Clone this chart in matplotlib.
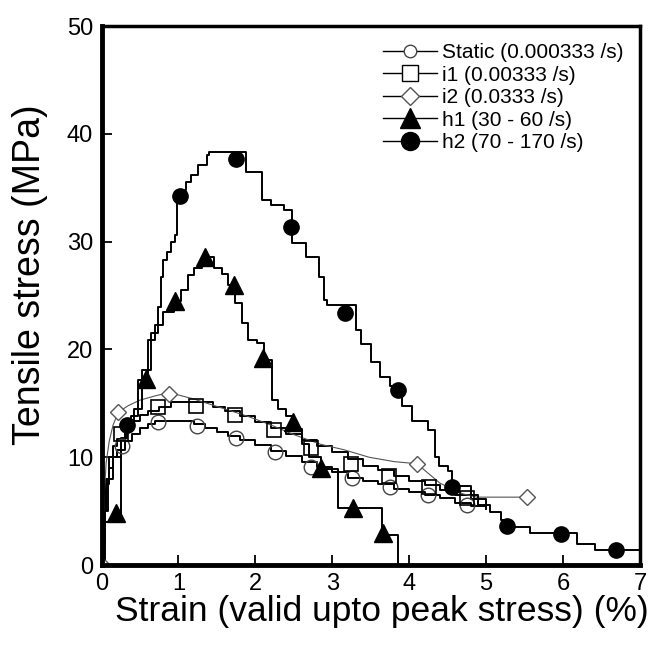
import matplotlib
matplotlib.use("Agg")
import matplotlib.pyplot as plt

plt.rcParams['font.family'] = ['Liberation Sans', 'DejaVu Sans']

# static test (0.000333 /s)
static_x = [0, 0.03, 0.06, 0.1, 0.15, 0.2, 0.3, 0.4, 0.5, 0.6, 0.7, 1.2, 1.35, 1.5, 1.65, 1.8,
            2.0, 2.2, 2.4, 2.6, 2.8, 3.0, 3.2, 3.4, 3.6, 3.8, 4.0, 4.2, 4.4, 4.6, 4.8, 5.0]
static_y = [0, 5, 7.5, 9, 10, 10.7, 11.5, 12.2, 12.7, 13.1, 13.4, 13.1, 12.7, 12.3, 12.0, 11.6,
            11.1, 10.6, 10.1, 9.6, 9.1, 8.6, 8.1, 7.8, 7.5, 7.1, 6.8, 6.5, 6.2, 5.8, 5.5, 5.2]
static_mx = [0.27, 0.74, 1.24, 1.75, 2.25, 2.72, 3.25, 3.75, 4.25, 4.75]
static_my = [11.0, 13.3, 12.9, 11.8, 10.5, 9.1, 8.1, 7.2, 6.5, 5.6]

# i1 (0.00333 /s)
i1_x = [0, 0.03, 0.06, 0.1, 0.15, 0.2, 0.3, 0.4, 0.5, 0.6, 0.75, 0.9, 1.3, 1.45, 1.6, 1.8,
        2.0, 2.2, 2.4, 2.6, 2.8, 3.0, 3.2, 3.4, 3.6, 3.8, 4.0, 4.2, 4.4, 4.6, 4.8, 5.0]
i1_y = [0, 5, 8, 10, 11, 11.7, 12.6, 13.4, 13.9, 14.3, 14.7, 15.1, 15.1, 14.7, 14.3, 13.8,
        13.3, 12.7, 12.2, 11.6, 11.0, 10.5, 9.8, 9.2, 8.8, 8.3, 7.8, 7.4, 7.0, 6.5, 6.1, 5.7]
i1_mx = [0.25, 0.74, 1.23, 1.74, 2.24, 2.72, 3.24, 3.74, 4.26, 4.75]
i1_my = [12.2, 14.7, 14.8, 13.9, 12.5, 10.9, 9.4, 8.3, 7.2, 6.2]

# i2 (0.0333 /s)
i2_x = [0, 0.03, 0.06, 0.1, 0.15, 0.22, 0.35, 0.5, 0.7, 0.88, 1.2, 1.55, 1.9, 2.2, 2.5,
        2.85, 3.15, 3.48, 3.8, 4.1, 4.4, 4.7, 4.88, 5.53]
i2_y = [0, 6, 9.5, 11.5, 13, 14.2, 14.8, 15.3, 15.7, 16.0, 15.4, 14.6, 13.8, 13.0, 12.1,
        11.2, 10.7, 10.0, 9.6, 9.4, 7.6, 6.6, 6.3, 6.3]
i2_mx = [0.0, 0.22, 0.88, 4.1, 5.53]
i2_my = [0.0, 14.2, 15.9, 9.4, 6.3]

# h1 (30 - 60 /s)
h1_x = [0, 0.05, 0.25, 0.3, 0.38, 0.48, 0.6, 0.7, 0.8, 0.94, 1.03, 1.13, 1.2, 1.3, 1.46,
        1.56, 1.65, 1.74, 1.82, 1.91, 2.02, 2.11, 2.21, 2.3, 2.4, 2.5, 2.6, 2.7, 2.85, 3.08,
        3.64, 3.86]
h1_y = [2.0, 4.0, 11.6, 12.5, 13.8, 17.2, 20.9, 22.3, 23.5, 24.5, 25.5, 26.9, 27.6, 28.6, 27.6,
        27.0, 26.0, 24.3, 22.5, 20.9, 20.6, 19.0, 15.3, 14.5, 13.8, 12.6, 11.2, 10.0, 8.9, 5.3,
        2.8, 0]
h1_mx = [0.19, 0.58, 0.95, 1.34, 1.72, 2.1, 2.49, 2.85, 3.27, 3.66]
h1_my = [4.8, 17.3, 24.5, 28.6, 26.0, 19.2, 13.3, 9.0, 5.3, 3.0]

# h2 (70 - 170 /s)
h2_x = [0, 0.04, 0.08, 0.15, 0.25, 0.33, 0.42, 0.52, 0.64, 0.74, 0.77, 0.8, 0.85, 0.9, 0.96,
        0.98, 1.04, 1.1, 1.16, 1.26, 1.37, 1.4, 1.88, 2.09, 2.2, 2.37, 2.47, 2.66, 2.83, 2.89,
        2.93, 3.31, 3.37, 3.5, 3.62, 3.75, 3.9, 4.03, 4.24, 4.34, 4.39, 4.5, 4.55, 4.8, 4.9,
        5.05, 5.2, 5.3, 5.57, 6.18, 6.42, 7.0]
h2_y = [0, 5, 8, 10, 11.8, 13.0, 14.5, 18.1, 21.5, 23.9, 26.7, 28.3, 29.0, 30.0, 30.6,
        33.6, 34.8, 35.5, 36.2, 37.1, 38.0, 38.3, 36.5, 33.9, 33.4, 32.9, 29.9, 28.6, 26.7, 24.6,
        24.1, 21.8, 20.5, 18.8, 17.4, 16.6, 14.8, 13.4, 12.5, 10.0, 9.2, 8.7, 7.3, 6.5, 5.6,
        4.9, 4.2, 3.5, 3.0, 2.0, 1.4, 1.4]
h2_mx = [0.33, 1.02, 1.75, 2.46, 3.16, 3.85, 4.56, 5.27, 5.98, 6.69]
h2_my = [13.0, 34.2, 37.7, 31.4, 23.4, 16.2, 7.2, 3.6, 2.9, 1.4]

labels = ['Static (0.000333 /s)', 'i1 (0.00333 /s)', 'i2 (0.0333 /s)',
          'h1 (30 - 60 /s)', 'h2 (70 - 170 /s)']

fig = plt.figure(figsize=(6.51, 6.51), dpi=100)
ax = fig.add_axes([0.156, 0.132, 0.827, 0.828])

ax.plot(static_x, static_y, color='black', lw=1.4, drawstyle='steps-post')
ax.plot(i1_x, i1_y, color='black', lw=1.4, drawstyle='steps-post')
ax.plot(i2_x, i2_y, color='#555555', lw=0.8)
ax.plot(h1_x, h1_y, color='black', lw=1.4, drawstyle='steps-post')
ax.plot(h2_x, h2_y, color='black', lw=1.4, drawstyle='steps-post')

ax.plot(static_mx, static_my, 'o', ls='none', ms=10.5, mfc='none', mec='#444444', mew=1.0)
ax.plot(i1_mx, i1_my, 's', ls='none', ms=10.5, mfc='none', mec='black', mew=1.2)
ax.plot(i2_mx, i2_my, 'D', ls='none', ms=8.5, mfc='white', mec='#555555', mew=1.0)
ax.plot(h1_mx, h1_my, '^', ls='none', ms=13, color='black')
ax.plot(h2_mx, h2_my, 'o', ls='none', ms=11, color='black')

# legend handles
hs = []
hs.append(ax.plot([], [], '-o', color='black', lw=1.0, ms=9, mfc='white', mec='#444444')[0])
hs.append(ax.plot([], [], '-s', color='black', lw=1.0, ms=12, mfc='white', mec='black')[0])
hs.append(ax.plot([], [], '-D', color='black', lw=1.0, ms=9.5, mfc='white', mec='#555555')[0])
hs.append(ax.plot([], [], '-^', color='black', lw=1.0, ms=14)[0])
hs.append(ax.plot([], [], '-o', color='black', lw=1.0, ms=13)[0])
fig.legend(hs, labels, loc='upper left', bbox_to_anchor=(383 / 651, 1 - 43 / 651),
           frameon=False, fontsize=15, handlelength=2.6, handletextpad=0.25,
           labelspacing=0.17, borderpad=0, borderaxespad=0)

ax.set_xlim(0, 7)
ax.set_ylim(0, 50)
ax.set_xticks(range(0, 8))
ax.set_yticks(range(0, 51, 10))
ax.tick_params(direction='in', length=7, width=1.3, labelsize=17, pad=6)
for s in ax.spines.values():
    s.set_linewidth(2.5)
ax.spines['left'].set_linewidth(3.5)
ax.spines['bottom'].set_linewidth(3.5)

ax.set_xlabel('Strain (valid upto peak stress) (%)', fontsize=25.5, labelpad=3)
ax.set_ylabel('Tensile stress (MPa)', fontsize=27)
ax.xaxis.set_label_coords(0.52, -0.055)
ax.yaxis.set_label_coords(-0.10, 0.538)

fig.savefig('out.png', dpi=100)
